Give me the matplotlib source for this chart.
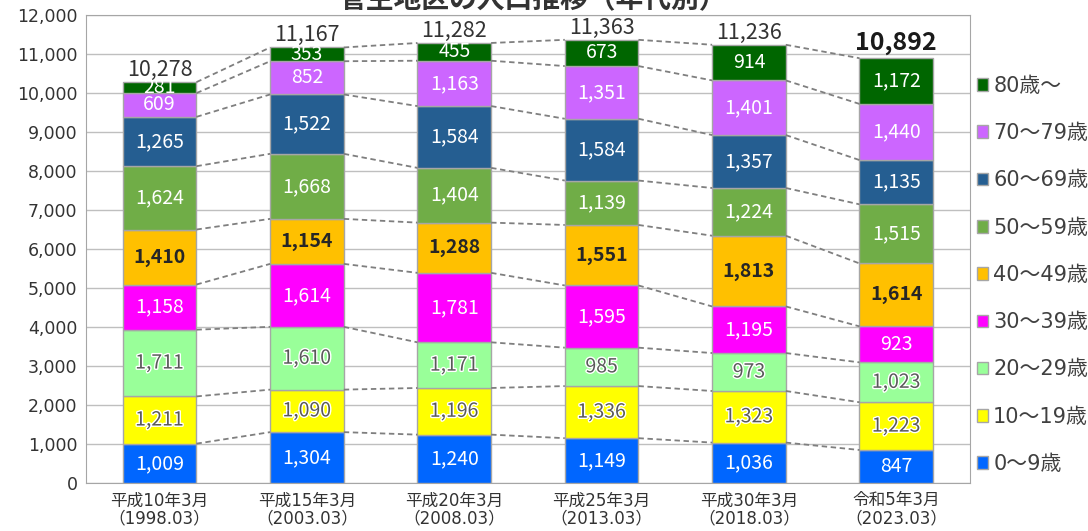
import numpy as np
import matplotlib
matplotlib.use('Agg')
import matplotlib.pyplot as plt
import matplotlib.patheffects as pe
from matplotlib.patches import Patch

plt.rcParams['font.family'] = ['Noto Sans CJK JP', 'DejaVu Sans']
WIDE = ['DejaVu Sans', 'Noto Sans CJK JP']

# Data
periods = ['平成10年3月\n（1998.03）', '平成15年3月\n（2003.03）', '平成20年3月\n（2008.03）',
           '平成25年3月\n（2013.03）', '平成30年3月\n（2018.03）', '令和5年3月\n（2023.03）']
age_groups = ['0～9歳', '10～19歳', '20～29歳', '30～39歳', '40～49歳',
              '50～59歳', '60～69歳', '70～79歳', '80歳～']
age_0_9 = [1009, 1304, 1240, 1149, 1036, 847]
age_10_19 = [1211, 1090, 1196, 1336, 1323, 1223]
age_20_29 = [1711, 1610, 1171, 985, 973, 1023]
age_30_39 = [1158, 1614, 1781, 1595, 1195, 923]
age_40_49 = [1410, 1154, 1288, 1551, 1813, 1614]
age_50_59 = [1624, 1668, 1404, 1139, 1224, 1515]
age_60_69 = [1265, 1522, 1584, 1584, 1357, 1135]
age_70_79 = [609, 852, 1163, 1351, 1401, 1440]
age_80_up = [281, 353, 455, 673, 914, 1172]

series = [age_0_9, age_10_19, age_20_29, age_30_39, age_40_49,
          age_50_59, age_60_69, age_70_79, age_80_up]
colors = ['#0066FF', '#FFFF00', '#99FF99', '#FF00FF', '#FFC000',
          '#70AD47', '#255E91', '#CC66FF', '#006600']

fig = plt.figure(figsize=(10.88, 5.31), dpi=100)
ax = fig.add_axes([0.079, 0.0904, 0.8125, 0.8814])

x = np.arange(len(periods))
w = 0.5
bottom = np.zeros(len(periods))
for i, (vals, c) in enumerate(zip(series, colors)):
    vals = np.array(vals)
    ax.bar(x, vals, w, bottom=bottom, color=c, edgecolor='#A6A6A6', lw=1, zorder=3)
    for xi, b, v in zip(x, bottom, vals):
        yc = b + v / 2
        if i in (1, 2):
            ax.text(xi, yc, f'{v:,}', ha='center', va='center', fontsize=14, color='#595959',
                    zorder=5, path_effects=[pe.withStroke(linewidth=2, foreground='white')])
        elif i == 4:
            ax.text(xi, yc, f'{v:,}', ha='center', va='center', fontsize=14,
                    color='#262626', fontweight='bold', zorder=5)
        else:
            ax.text(xi, yc, f'{v:,}', ha='center', va='center', fontsize=14,
                    color='white', zorder=5)
    top = bottom + vals
    # dashed connectors between neighbouring bars
    for j in range(len(x) - 1):
        ax.plot([x[j] + w / 2, x[j + 1] - w / 2], [top[j], top[j + 1]],
                ls='--', color='#7F7F7F', lw=1.3, dashes=(3, 2), zorder=4)
    bottom = top

totals = bottom
for xi, t in zip(x, totals):
    if xi == len(x) - 1:
        ax.text(xi, t + 90, f'{int(t):,}', ha='center', va='bottom', fontsize=18,
                fontweight='bold', color='#1a1a1a')
    else:
        ax.text(xi, t + 30, f'{int(t):,}', ha='center', va='bottom', fontsize=15.5,
                color='#333333')

ax.set_xlim(-0.5, len(x) - 0.5)
ax.set_ylim(0, 12000)
ax.set_yticks(np.arange(0, 12001, 1000))
ax.set_yticklabels([f'{v:,}' for v in range(0, 12001, 1000)], fontsize=12.5,
                   color='#333333', family=WIDE)
ax.set_xticks(x)
ax.set_xticklabels(periods, fontsize=12, color='#333333', linespacing=1.0, family=WIDE)
ax.tick_params(length=0, pad=6)
ax.grid(axis='y', color='#BFBFBF', lw=1, zorder=0)
for s in ax.spines.values():
    s.set_color('#A6A6A6')

handles = [Patch(facecolor=c, edgecolor='#A6A6A6', label=l)
           for c, l in zip(colors, age_groups)][::-1]
leg = ax.legend(handles=handles, loc='upper left', bbox_to_anchor=(0.998, 0.888),
                frameon=False, handlelength=0.55, handleheight=0.55,
                handletextpad=0.25, labelspacing=1.31, borderaxespad=0.0,
                labelcolor='#404040', prop={'family': WIDE, 'size': 15})

fig.text(0.49, 0.985, '菅生地区の人口推移（年代別）', ha='center', va='baseline',
         fontsize=20, fontweight='bold', color='#333333')

fig.savefig('out.png', dpi=100)
